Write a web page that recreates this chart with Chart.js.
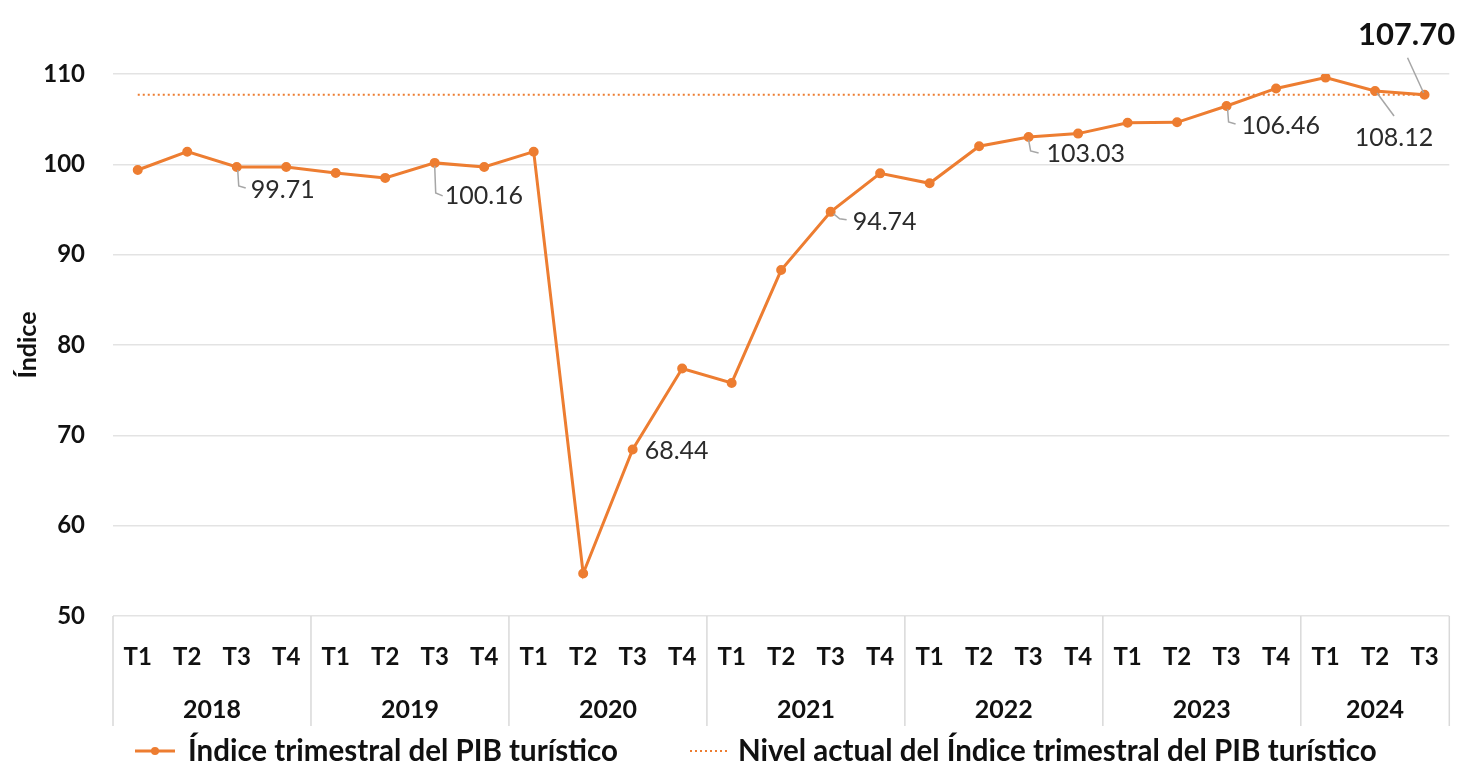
<!DOCTYPE html>
<html>
<head>
<meta charset="utf-8">
<script src="https://cdn.jsdelivr.net/npm/chart.js@4/dist/chart.umd.min.js"></script>
<style>
  html, body { margin: 0; padding: 0; background: #fff; }
  .wrap { position: relative; width: 1466px; height: 762px; }
</style>
</head>
<body>
<div class="wrap"><canvas id="c" width="1466" height="762"></canvas></div>
<script>
// Data
const years = ['2018', '2019', '2020', '2021', '2022', '2023', '2024'];
const quartersPerYear = [4, 4, 4, 4, 4, 4, 3];
const quarters = [
  'T1','T2','T3','T4', 'T1','T2','T3','T4', 'T1','T2','T3','T4',
  'T1','T2','T3','T4', 'T1','T2','T3','T4', 'T1','T2','T3','T4',
  'T1','T2','T3'
];
const pibIndex = [
  99.37, 101.40, 99.71, 99.70,
  99.04, 98.50, 100.16, 99.70,
  101.40, 54.70, 68.44, 77.40,
  75.80, 88.30, 94.74, 99.00,
  97.90, 102.00, 103.03, 103.40,
  104.60, 104.65, 106.46, 108.40,
  109.60, 108.12, 107.70
];
const currentLevel = 107.70;
const yTicks = [50, 60, 70, 80, 90, 100, 110];

const ORANGE = '#ED7D31';
const FONT = "Lato, 'Open Sans', sans-serif";

// Which points get a value label, and where it sits relative to the point (px)
const labelMarks = [
  { i: 2,  dx: 14, dy: 23, lead: [[1, 3], [2, 19], [9, 21]] },
  { i: 6,  dx: 10, dy: 33, lead: [[0, 3], [1, 30], [8, 33]] },
  { i: 10, dx: 12, dy: 2,  lead: null },
  { i: 14, dx: 22, dy: 10, lead: [[3, 2], [9, 7], [16, 8]] },
  { i: 18, dx: 18, dy: 17, lead: [[0, 3], [2, 14], [10, 16]] },
  { i: 22, dx: 15, dy: 20, lead: [[1, 3], [2, 16], [9, 18]] },
  { i: 25, dx: 19, dy: 47, align: 'center', lead: [[2, 2], [19, 25]] },
  { i: 26, dx: -18, dy: -60, align: 'center', big: true, lead: [[-1, -2], [-17, -37]] }
];

const pointLabels = {
  id: 'pointLabels',
  afterDatasetsDraw(chart) {
    const meta = chart.getDatasetMeta(0);
    const ctx = chart.ctx;
    ctx.save();
    labelMarks.forEach(m => {
      const p = meta.data[m.i];
      if (m.lead) {
        ctx.beginPath();
        ctx.strokeStyle = '#a6a6a6';
        ctx.lineWidth = 1.5;
        m.lead.forEach((o, k) => {
          const x = p.x + o[0], y = p.y + o[1];
          if (k === 0) ctx.moveTo(x, y); else ctx.lineTo(x, y);
        });
        ctx.stroke();
      }
      ctx.fillStyle = m.big ? '#111' : '#2b2b2b';
      ctx.font = m.big ? 'bold 31px ' + FONT : '25px ' + FONT;
      ctx.textAlign = m.align || 'left';
      ctx.textBaseline = 'middle';
      ctx.fillText(pibIndex[m.i].toFixed(2), p.x + m.dx, p.y + m.dy);
    });
    ctx.restore();
  }
};

// Year groups under the quarter ticks, separators and the legend
const groupAxis = {
  id: 'groupAxis',
  afterDraw(chart) {
    const ctx = chart.ctx;
    const xs = chart.scales.x;
    const area = chart.chartArea;
    const step = xs.getPixelForValue(1) - xs.getPixelForValue(0);
    ctx.save();
    ctx.strokeStyle = '#d9d9d9';
    ctx.lineWidth = 1.5;
    let start = 0;
    const edges = [];
    years.forEach((yr, g) => {
      const n = quartersPerYear[g];
      const left = xs.getPixelForValue(start) - step / 2;
      const right = xs.getPixelForValue(start + n - 1) + step / 2;
      edges.push(left);
      if (g === years.length - 1) edges.push(right);
      ctx.fillStyle = '#111';
      ctx.font = 'bold 25px ' + FONT;
      ctx.textAlign = 'center';
      ctx.textBaseline = 'middle';
      ctx.fillText(yr, (left + right) / 2, 710);
      start += n;
    });
    edges.forEach(x => {
      ctx.beginPath();
      ctx.moveTo(x, area.bottom);
      ctx.lineTo(x, 726);
      ctx.stroke();
    });

    // legend
    const ly = 751;
    ctx.strokeStyle = ORANGE;
    ctx.lineWidth = 3;
    ctx.beginPath();
    ctx.moveTo(135, ly);
    ctx.lineTo(175, ly);
    ctx.stroke();
    ctx.fillStyle = ORANGE;
    ctx.beginPath();
    ctx.arc(155, ly, 4, 0, Math.PI * 2);
    ctx.fill();
    ctx.lineWidth = 2;
    ctx.setLineDash([2, 3]);
    ctx.beginPath();
    ctx.moveTo(690, ly);
    ctx.lineTo(728, ly);
    ctx.stroke();
    ctx.setLineDash([]);
    ctx.fillStyle = '#111';
    ctx.font = 'bold 29.5px ' + FONT;
    ctx.textAlign = 'left';
    ctx.fillText(chart.data.datasets[0].label, 188, ly);
    ctx.fillText(chart.data.datasets[1].label, 738, ly);
    ctx.restore();
  }
};

new Chart(document.getElementById('c'), {
  type: 'line',
  data: {
    labels: quarters,
    datasets: [
      {
        label: 'Índice trimestral del PIB turístico',
        data: pibIndex,
        borderColor: ORANGE,
        backgroundColor: ORANGE,
        borderWidth: 3,
        pointRadius: 3.5,
        pointHoverRadius: 3.5,
        tension: 0,
        order: 1
      },
      {
        label: 'Nivel actual del Índice trimestral del PIB turístico',
        data: quarters.map(() => currentLevel),
        borderColor: ORANGE,
        borderWidth: 2,
        borderDash: [2, 3],
        pointRadius: 0,
        tension: 0,
        order: 2
      }
    ]
  },
  options: {
    responsive: false,
    animation: false,
    events: [],
    layout: { padding: { top: 74, right: 16, left: 0, bottom: 0 } },
    plugins: {
      legend: { display: false },
      tooltip: { enabled: false }
    },
    scales: {
      x: {
        offset: true,
        grid: { display: false, drawTicks: false },
        border: { display: false },
        ticks: {
          color: '#111',
          font: { family: FONT, size: 24, weight: 'bold' },
          padding: 27,
          autoSkip: false,
          maxRotation: 0
        },
        afterFit(scale) { scale.height = 146; }
      },
      y: {
        min: 50,
        max: 110,
        afterBuildTicks(scale) { scale.ticks = yTicks.map(v => ({ value: v })); },
        grid: { color: '#e3e3e3', lineWidth: 1.5, drawTicks: false },
        border: { display: false },
        ticks: {
          color: '#111',
          font: { family: FONT, size: 24, weight: 'bold' },
          padding: 28
        },
        title: {
          display: true,
          text: 'Índice',
          color: '#111',
          font: { family: FONT, size: 25, weight: 'bold' },
          padding: { top: 13, bottom: 0 }
        },
        afterFit(scale) { scale.width = 113; }
      }
    }
  },
  plugins: [pointLabels, groupAxis]
});
</script>
</body>
</html>
